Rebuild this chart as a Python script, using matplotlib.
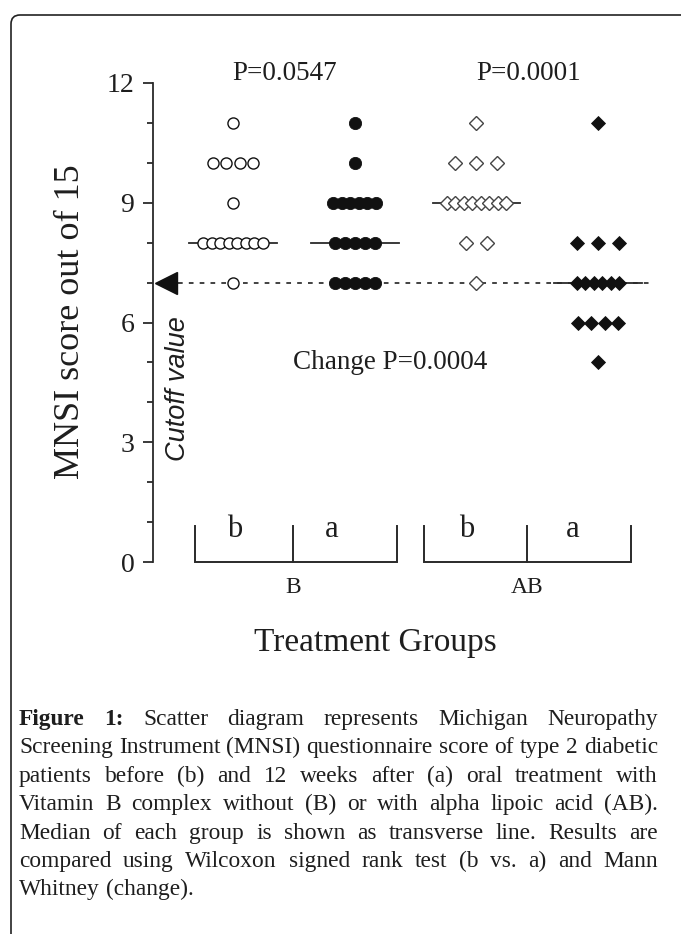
import numpy as np
import matplotlib
matplotlib.use("Agg")
import matplotlib.pyplot as plt
from matplotlib.patches import FancyBboxPatch

# ---------------- data ----------------
groups = ["B", "AB"]
timepoints = ["b", "a"]
B_before = [11, 10, 10, 10, 10, 9, 8, 8, 8, 8, 8, 8, 8, 8, 7]
B_after = [11, 10, 9, 9, 9, 9, 9, 9, 8, 8, 8, 8, 8, 7, 7, 7, 7, 7]
AB_before = [11, 10, 10, 10, 9, 9, 9, 9, 9, 9, 9, 9, 8, 8, 7]
AB_after = [11, 8, 8, 8, 7, 7, 7, 7, 7, 7, 6, 6, 6, 6, 5]
cutoff = 7
p_within = ["P=0.0547", "P=0.0001"]
p_change = "Change P=0.0004"
yticks = [0, 3, 6, 9, 12]
ylabel = "MNSI score out of 15"
xlabel = "Treatment Groups"
cutoff_label = "Cutoff value"
caption_lines = [
    "Figure 1: Scatter diagram represents Michigan Neuropathy",
    "Screening Instrument (MNSI) questionnaire score of type 2 diabetic",
    "patients before (b) and 12 weeks after (a) oral treatment with",
    "Vitamin B complex without (B) or with alpha lipoic acid (AB).",
    "Median of each group is shown as transverse line. Results are",
    "compared using Wilcoxon signed rank test (b vs. a) and Mann",
    "Whitney (change).",
]

# ---------------- layout ----------------
plt.rcParams['font.family'] = ['Liberation Serif', 'DejaVu Serif']
W, H = 681, 934
INK = '#1e1e1e'
fig = plt.figure(figsize=(W / 100, H / 100), dpi=100)

AX_L, AX_R = 153, 681      # pixel x of axis spine / right edge
Y_0, Y_12 = 562, 83        # pixel y of value 0 and value 12
ax = fig.add_axes([AX_L / W, 1 - Y_0 / H, (AX_R - AX_L) / W, (Y_0 - Y_12) / H])
X0, UNIT = 233.0, 121.7    # pixel of first column, pixels per column


def px(p):
    return (p - X0) / UNIT


ax.set_xlim(px(AX_L), px(AX_R))
ax.set_ylim(0, 12)
for s in ['top', 'right', 'bottom']:
    ax.spines[s].set_visible(False)
ax.spines['left'].set_color('#2a2a2a')
ax.spines['left'].set_linewidth(1.3)
ax.set_xticks([])
ax.set_yticks(yticks)
ax.set_yticks(range(0, 13), minor=True)
ax.tick_params(axis='y', which='major', length=7.5, width=1.3, pad=6,
               labelsize=20, color='#2a2a2a', labelcolor=INK)
ax.tick_params(axis='y', which='minor', length=4.5, width=1.3, color='#2a2a2a')
ax.patch.set_alpha(0)


def swarm(n):
    if n == 1:
        return np.zeros(1)
    sp = 21.0 if n <= 3 else max(8.5, 40.0 / (n - 1))
    return (np.arange(n) - (n - 1) / 2.0) * sp / UNIT


series = [
    (B_before, 'o', False, 8.0),
    (B_after, 'o', True, 8.8),
    (AB_before, 'D', False, 6.8),
    (AB_after, 'D', True, 7.6),
]

# cutoff dotted line
ax.plot([px(178), px(650)], [cutoff, cutoff], ls=(0, (2.6, 3.4)), lw=1.3,
        color='#333333', zorder=1.5, clip_on=False)

for i, (vals, mk, filled, ms) in enumerate(series):
    vals = np.asarray(vals)
    med = np.median(vals)
    ax.plot([i - 0.36, i + 0.36], [med, med], color='#2a2a2a', lw=1.3, zorder=2)
    xs, ys = [], []
    for v in sorted(set(vals.tolist()), reverse=True):
        n = int(np.sum(vals == v))
        xs.extend(i + swarm(n))
        ys.extend([v] * n)
    if filled:
        ax.plot(xs, ys, ls='none', marker=mk, ms=ms, mfc='#111111', mec='#111111',
                mew=0.6, zorder=3, clip_on=False)
    else:
        ec = '#111111' if mk == 'o' else '#444444'
        ax.plot(xs, ys, ls='none', marker=mk, ms=ms, mfc='white', mec=ec,
                mew=1.0, zorder=3, clip_on=False)

# cutoff arrow and label
ax.plot([px(166)], [cutoff], marker='<', ms=16.5, color='#111111', ls='none',
        zorder=5, clip_on=False)
ax.text(px(178), 4.35, cutoff_label, rotation=90, family=['Liberation Sans', 'DejaVu Sans'],
        style='italic', fontsize=19.5, ha='center', va='center', color=INK)

# p-values
ax.text(px(285), 12.25, p_within[0], fontsize=19.5, ha='center', va='center', color=INK,
        clip_on=False)
ax.text(px(529), 12.25, p_within[1], fontsize=19.5, ha='center', va='center', color=INK,
        clip_on=False)
ax.text(px(390), 5.0, p_change, fontsize=19.5, ha='center', va='center', color=INK)

# brackets
brackets = [(195, 293, 397), (424, 527, 631)]
letter_px = [(235, 332), (467, 573)]
TOP = 0.89
for (l, m, r), (lb, la), g in zip(brackets, letter_px, groups):
    ax.plot([px(l), px(l), px(r), px(r)], [TOP, 0, 0, TOP], color='#2a2a2a', lw=1.4,
            clip_on=False, solid_joinstyle='miter')
    ax.plot([px(m), px(m)], [0, TOP], color='#2a2a2a', lw=1.4, clip_on=False)
    ax.text(px(lb), 0.62, timepoints[0], fontsize=22, ha='center', va='baseline', color=INK)
    ax.text(px(la), 0.62, timepoints[1], fontsize=22, ha='center', va='baseline', color=INK)
    ax.text(px(m), -0.65, g, fontsize=17, ha='center', va='center', color=INK, clip_on=False)

# axis titles
fig.text(71 / W, 1 - 322 / H, ylabel, rotation=90, fontsize=26, ha='center', va='center',
         color=INK)
fig.text(375 / W, 1 - 643 / H, xlabel, fontsize=24, ha='center', va='center', color=INK)

# border box
box = FancyBboxPatch((0.11, -0.5), 7.5, 9.19 + 0.5,
                     boxstyle="round,pad=0,rounding_size=0.09",
                     transform=fig.dpi_scale_trans, fill=False, lw=1.2, ec='#222222')
fig.add_artist(box)

# caption (justified)
renderer = fig.canvas.get_renderer()
CAP_L, CAP_R = 19, 658
CAP_FS = 16.8
for k, line in enumerate(caption_lines):
    ybase = 1 - (725 + k * 28.4) / H
    words = line.split()
    texts = []
    for w in words:
        bold = (k == 0 and w in ("Figure", "1:"))
        t = fig.text(0, ybase, w, fontsize=CAP_FS, weight='bold' if bold else 'normal',
                     ha='left', va='baseline', color=INK)
        texts.append(t)
    widths = [t.get_window_extent(renderer).width for t in texts]
    if k == len(caption_lines) - 1 or len(words) == 1:
        gap = 0.25 * CAP_FS * 100 / 72
    else:
        gap = (CAP_R - CAP_L - sum(widths)) / (len(words) - 1)
    x = CAP_L
    for t, wd in zip(texts, widths):
        t.set_x(x / W)
        x += wd + gap

fig.savefig("out.png", dpi=100)
